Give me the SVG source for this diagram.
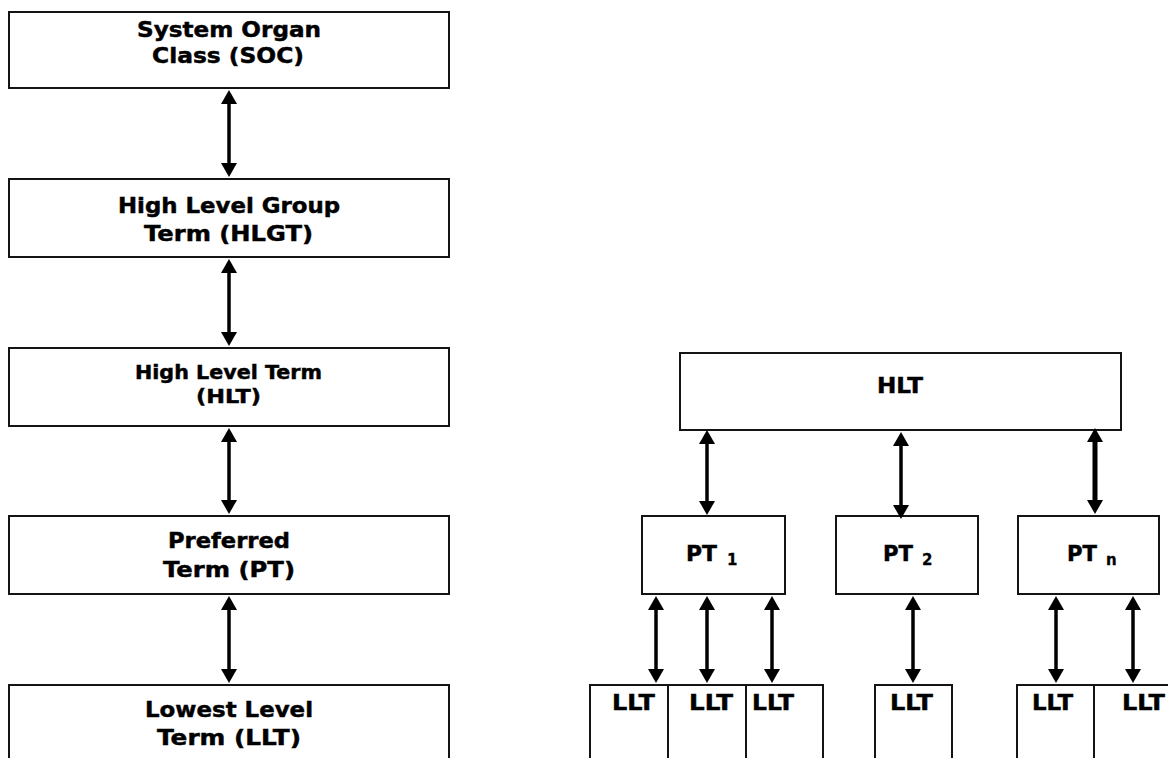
<svg xmlns="http://www.w3.org/2000/svg" width="1168" height="758" viewBox="0 0 1168 758">
  <style>
    .box { fill: #ffffff; stroke: #141414; stroke-width: 2; }
    .t { font-family: "DejaVu Sans", Verdana, sans-serif; font-weight: bold; fill: #000; stroke: #000; stroke-width: 0.45; }
    .f21 { font-size: 21px; }
    .f19 { font-size: 19px; }
    .f22 { font-size: 22px; }
    .sub { font-size: 15px; stroke-width: 0.3; }
    .arr { stroke: #000; stroke-width: 3.5; fill: none; marker-start: url(#head); marker-end: url(#head); }
    .thick { stroke-width: 5; }
  </style>
  <defs>
    <marker id="head" viewBox="0 0 14 16" refX="1" refY="8" markerWidth="14" markerHeight="16" markerUnits="userSpaceOnUse" orient="auto-start-reverse">
      <path d="M0,0 L14,8 L0,16 z" fill="#000"/>
    </marker>
  </defs>
  <rect width="1168" height="758" fill="#ffffff"/>

  <!-- Left column -->
  <g id="soc">
    <rect class="box" x="9" y="12" width="440" height="76"/>
    <text class="t f21" x="137" y="37" textLength="184" lengthAdjust="spacingAndGlyphs">System Organ</text>
    <text class="t f21" x="152" y="63" textLength="152" lengthAdjust="spacingAndGlyphs">Class (SOC)</text>
  </g>
  <g id="hlgt">
    <rect class="box" x="9" y="179" width="440" height="78"/>
    <text class="t f21" x="118" y="213" textLength="222" lengthAdjust="spacingAndGlyphs">High Level Group</text>
    <text class="t f21" x="144" y="241" textLength="169" lengthAdjust="spacingAndGlyphs">Term (HLGT)</text>
  </g>
  <g id="hlt-left">
    <rect class="box" x="9" y="348" width="440" height="78"/>
    <text class="t f19" x="135" y="379" textLength="187" lengthAdjust="spacingAndGlyphs">High Level Term</text>
    <text class="t f19" x="196" y="403" textLength="65" lengthAdjust="spacingAndGlyphs">(HLT)</text>
  </g>
  <g id="pt-left">
    <rect class="box" x="9" y="516" width="440" height="78"/>
    <text class="t f21" x="168" y="548" textLength="122" lengthAdjust="spacingAndGlyphs">Preferred</text>
    <text class="t f21" x="163" y="577" textLength="132" lengthAdjust="spacingAndGlyphs">Term (PT)</text>
  </g>
  <g id="llt-left">
    <rect class="box" x="9" y="685" width="440" height="90"/>
    <text class="t f21" x="145" y="717" textLength="168" lengthAdjust="spacingAndGlyphs">Lowest Level</text>
    <text class="t f21" x="157" y="745" textLength="144" lengthAdjust="spacingAndGlyphs">Term (LLT)</text>
  </g>

  <!-- Right hierarchy -->
  <g id="hlt-right">
    <rect class="box" x="680" y="353" width="441" height="77"/>
    <text class="t f21" x="877" y="393" textLength="46" lengthAdjust="spacingAndGlyphs">HLT</text>
  </g>
  <g id="pt1">
    <rect class="box" x="642" y="516" width="143" height="78"/>
    <text class="t f22" x="686" y="561" textLength="31" lengthAdjust="spacingAndGlyphs">PT</text>
    <text class="t sub" x="727" y="565">1</text>
  </g>
  <g id="pt2">
    <rect class="box" x="836" y="516" width="142" height="78"/>
    <text class="t f22" x="883" y="561" textLength="30" lengthAdjust="spacingAndGlyphs">PT</text>
    <text class="t sub" x="922" y="565">2</text>
  </g>
  <g id="ptn">
    <rect class="box" x="1018" y="516" width="141" height="78"/>
    <text class="t f22" x="1067" y="561" textLength="30" lengthAdjust="spacingAndGlyphs">PT</text>
    <text class="t sub" x="1106" y="565">n</text>
  </g>
  <g id="llt1">
    <rect class="box" x="590" y="685" width="78" height="90"/>
    <text class="t f21" x="612" y="710" textLength="43" lengthAdjust="spacingAndGlyphs">LLT</text>
  </g>
  <g id="llt2">
    <rect class="box" x="668" y="685" width="78" height="90"/>
    <text class="t f21" x="689" y="710" textLength="44" lengthAdjust="spacingAndGlyphs">LLT</text>
  </g>
  <g id="llt3">
    <rect class="box" x="746" y="685" width="77" height="90"/>
    <text class="t f21" x="752" y="710" textLength="42" lengthAdjust="spacingAndGlyphs">LLT</text>
  </g>
  <g id="llt4">
    <rect class="box" x="875" y="685" width="77" height="90"/>
    <text class="t f21" x="890" y="710" textLength="43" lengthAdjust="spacingAndGlyphs">LLT</text>
  </g>
  <g id="llt5">
    <rect class="box" x="1017" y="685" width="77" height="90"/>
    <text class="t f21" x="1032" y="710" textLength="41" lengthAdjust="spacingAndGlyphs">LLT</text>
  </g>
  <g id="llt6">
    <rect class="box" x="1094" y="685" width="90" height="90"/>
    <text class="t f21" x="1122" y="710" textLength="43" lengthAdjust="spacingAndGlyphs">LLT</text>
  </g>

  <!-- Connectors -->
  <g id="connectors">
    <line class="arr" x1="229" y1="103" x2="229" y2="164"/>
    <line class="arr" x1="229" y1="272" x2="229" y2="333"/>
    <line class="arr" x1="229" y1="441" x2="229" y2="501"/>
    <line class="arr" x1="229" y1="609" x2="229" y2="670"/>

    <line class="arr" x1="707" y1="443" x2="707" y2="502"/>
    <line class="arr" x1="901" y1="445" x2="901" y2="506"/>
    <line class="arr thick" x1="1095" y1="441" x2="1095" y2="501"/>

    <line class="arr" x1="656" y1="609" x2="656" y2="670"/>
    <line class="arr" x1="707" y1="609" x2="707" y2="670"/>
    <line class="arr" x1="772" y1="609" x2="772" y2="670"/>
    <line class="arr" x1="913" y1="609" x2="913" y2="670"/>
    <line class="arr" x1="1056" y1="609" x2="1056" y2="670"/>
    <line class="arr" x1="1133" y1="609" x2="1133" y2="670"/>
  </g>
</svg>
